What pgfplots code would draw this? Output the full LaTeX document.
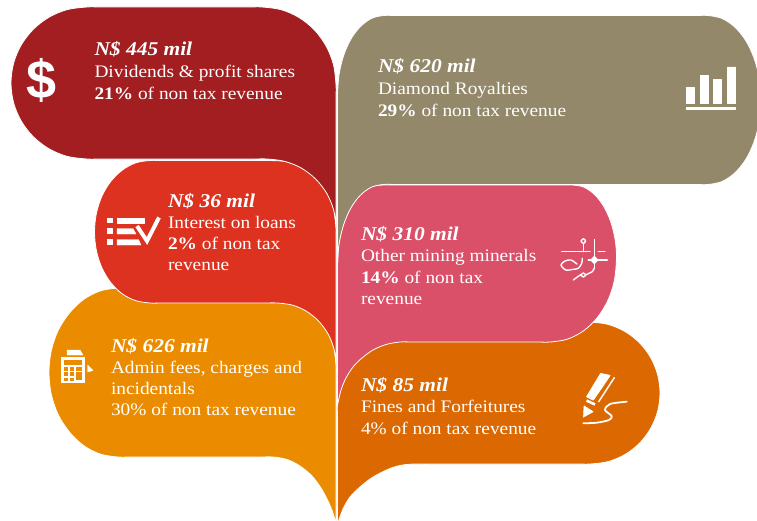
\documentclass[border=0pt]{standalone}
\usepackage{fontspec}
\setmainfont{Liberation Serif}[FakeStretch=1.1]
\newfontfamily\dollarfont{Liberation Sans}
\usepackage{pgfplots}
\pgfplotsset{compat=1.18}
\definecolor{cdarkred}{HTML}{A21E20}
\definecolor{ckhaki}{HTML}{94886A}
\definecolor{cred}{HTML}{DE3220}
\definecolor{cpink}{HTML}{DA5069}
\definecolor{corange}{HTML}{EB8C00}
\definecolor{cdorange}{HTML}{DB6800}
\tikzset{lab/.style={anchor=base west,inner sep=0pt,outer sep=0pt,text=white,font=\fontsize{17.6bp}{20bp}\selectfont}}
\newcommand{\head}[1]{{\fontsize{19.5bp}{20bp}\selectfont\bfseries\itshape #1}}
\pgfplotsset{leaf/.style={smooth,tension=0.55,draw=white,line width=0.8pt,line join=round,fill=#1},
 iconf/.style={fill=white,draw=white,line width=0.4pt,line join=round},
 iconl/.style={draw=white,line width=#1,line cap=round,line join=round}}
\begin{document}
\begin{tikzpicture}
\useasboundingbox (0,0) rectangle (757bp,521bp);
\begin{axis}[at={(0,0)},anchor=south west,width=757bp,height=521bp,scale only axis,xmin=0,xmax=757,ymin=0,ymax=521,y dir=reverse,hide axis,no markers]
% orange
\addplot[leaf=corange] coordinates {(336,524)(336,400)(336,376)(336,364)(334,348)(328.1,333)(318.7,320)(306.5,310)(292.3,304)(277,299)(265,293)(250,289)(235,288)(223,288)(150,288)(142,288)(130,288)(118,288)(100.3,290.9)(83.8,299.3)(69.6,312.8)(58.3,330.2)(51.3,350.6)(49,372.5)(51.3,394.4)(58.3,414.8)(69.6,432.2)(83.8,445.7)(100.3,454.1)(118,457)(130,457)(142,457)(200,457)(249,457)(261,457)(273,457)(287,459.5)(300,466)(312,476)(321,488)(328,501)(333,513)(336,524)};
% red
\addplot[leaf=cred] coordinates {(336,365)(336,300)(336,250)(336,238)(336,227)(333.7,209)(326.8,192.5)(315.8,178)(301.5,167.5)(284.9,161.5)(267,160.5)(255,160.5)(243,160.5)(200,160.5)(174,160.5)(162,160.5)(150,160.5)(135.6,162.9)(122.3,170.1)(110.8,181.4)(101.9,196.2)(96.4,213.5)(94.5,232)(96.4,250.5)(101.9,267.8)(110.8,282.6)(122.3,293.9)(135.6,300.6)(150,303)(162,303)(174,303)(220,303)(253,303)(265,303)(277,303)(292.3,305.1)(306.5,311.3)(318.7,321.2)(328.1,334)(334,349)(336,365)};
% dark red
\addplot[leaf=cdarkred] coordinates {(336,228)(336,160)(336,121)(336,109)(336,97)(336,85)(333.5,64.8)(326.1,46)(314.3,29.8)(299,17.5)(281.2,9.7)(262,7)(250,7)(238,7)(170,7)(111,7)(99,7)(87,7)(67.3,9.6)(49,17.2)(33.3,29.3)(21.2,45)(13.6,63.3)(11,83)(13.6,102.7)(21.2,121)(33.3,136.7)(49,148.8)(67.3,156.4)(87,159)(99,159)(111,159)(170,159)(243,159)(255,159)(267,159)(284.9,161.4)(301.5,168.2)(315.8,179.2)(326.8,193.5)(333.7,210.1)(336,228)};
% dark orange
\addplot[leaf=cdorange] coordinates {(337.5,524)(337.5,460)(337.5,428)(337.5,416)(337.5,404)(341,389)(346,377)(353,366)(362,357)(373,349)(386,343)(400,338)(415,328)(430,323)(442,322)(454,322)(500,322)(554,322)(566,322)(578,322)(590,322)(608.1,324.4)(625,331.5)(639.5,342.8)(650.6,357.5)(657.6,374.6)(660,393)(657.6,411.4)(650.6,428.5)(639.5,443.2)(625,454.5)(608.1,461.6)(590,464)(578,464)(566,464)(500,464)(434,464)(422,464)(410,464.2)(401,465.3)(390,468.5)(373,477)(360,487)(350,497)(343,509)(337.5,524)};
% pink
\addplot[leaf=cpink] coordinates {(337.5,405)(337.5,330)(337.5,288)(337.5,276)(337.5,264)(339,243)(343.6,223.8)(350.8,207)(360.3,194.3)(371.2,186.8)(383,185)(395,185)(407,185)(480,185)(548,185)(560,185)(572,185)(583.5,187)(594.3,194.3)(603.5,206)(610.5,221.2)(615,239)(616.5,258)(614.2,281.2)(607.6,301)(597,318)(583.3,331)(567.2,339.2)(550,342)(538,342)(526,342)(470,342)(424,342)(412,342)(400,342)(386,344.5)(373,350)(362,358)(353,367)(346,378)(341,390)(337.5,405)};
% khaki
\addplot[leaf=ckhaki] coordinates {(337.5,265)(337.5,180)(337.5,119)(337.5,107)(337.5,95)(339.1,74.4)(343.7,55.3)(351.1,38.8)(360.8,26.2)(372,18.2)(384,15.5)(396,15.5)(408,15.5)(550,15.5)(684,15.5)(696,15.5)(708,15.5)(721.7,18.4)(734.5,26.8)(745.5,40.2)(753.9,57.8)(759.2,78.1)(761,100)(759.2,121.9)(753.9,142.2)(745.5,159.8)(734.5,173.2)(721.7,181.6)(708,184.5)(696,184.5)(684,184.5)(550,184.5)(407,184.5)(395,184.5)(383,184.5)(371.2,187.3)(360.3,195.3)(350.8,208.1)(343.6,224.8)(339,244.2)(337.5,265)};
% bar icon
\addplot[iconf] coordinates {(686,87.5)(694,87.5)(694,103)(686,103)(686,87.5)};
\addplot[iconf] coordinates {(700,75.5)(708,75.5)(708,103)(700,103)(700,75.5)};
\addplot[iconf] coordinates {(713.5,79.5)(721.5,79.5)(721.5,103)(713.5,103)(713.5,79.5)};
\addplot[iconf] coordinates {(727.5,67)(735.5,67)(735.5,103)(727.5,103)(727.5,67)};
\addplot[iconf] coordinates {(686,107.5)(735.5,107.5)(735.5,109.5)(686,109.5)(686,107.5)};
% checklist icon
\addplot[iconf] coordinates {(107,218)(112,218)(112,222.5)(107,222.5)(107,218)};
\addplot[iconf] coordinates {(107,228.5)(112,228.5)(112,233.5)(107,233.5)(107,228.5)};
\addplot[iconf] coordinates {(107,239.5)(112,239.5)(112,244.5)(107,244.5)(107,239.5)};
\addplot[iconf] coordinates {(117,218)(144,218)(144,223.5)(117,223.5)(117,218)};
\addplot[iconf] coordinates {(117,228.5)(133,228.5)(136,234)(117,234)(117,228.5)};
\addplot[iconf] coordinates {(117,239.5)(138.5,239.5)(141,245)(117,245)(117,239.5)};
\addplot[iconl=4pt,line cap=butt,line join=miter] coordinates {(137,226)(147,241)(159,217.5)};
% calculator icon
\addplot[iconf] coordinates {(61,357)(84.5,357)(84.5,382.5)(61,382.5)(61,357)};
\addplot[iconf] coordinates {(67,350)(80,350)(83,355)(67,355)(67,350)};
\addplot[iconf] coordinates {(87.5,365)(93,370.5)(87.5,372)(87.5,365)};
\addplot[fill=corange,draw=none] coordinates {(64,360)(81.5,360)(81.5,364.5)(64,364.5)};
\addplot[fill=corange,draw=none] coordinates {(64,367)(68.3,367)(68.3,370.7)(64,370.7)};
\addplot[fill=corange,draw=none] coordinates {(70,367)(74,367)(74,370.7)(70,370.7)};
\addplot[fill=corange,draw=none] coordinates {(75.7,367)(81.5,367)(81.5,370.7)(75.7,370.7)};
\addplot[fill=corange,draw=none] coordinates {(64,372.4)(68.3,372.4)(68.3,376)(64,376)};
\addplot[fill=corange,draw=none] coordinates {(70,372.4)(74,372.4)(74,376)(70,376)};
\addplot[fill=corange,draw=none] coordinates {(75.7,372.4)(81.5,372.4)(81.5,379.8)(75.7,379.8)};
\addplot[fill=corange,draw=none] coordinates {(64,377.5)(68.3,377.5)(68.3,380.5)(64,380.5)};
\addplot[fill=corange,draw=none] coordinates {(70,377.5)(74,377.5)(74,380.5)(70,380.5)};
% circuit icon
\addplot[iconl=1.4pt] coordinates {(583.3,243.5)(583.3,251.7)};
\addplot[iconl=1.4pt] coordinates {(561.7,251.7)(590,251.7)};
\addplot[iconl=1.4pt] coordinates {(598.3,251.7)(605,251.7)};
\addplot[iconl=1.4pt] coordinates {(594.3,239.5)(594.3,268)};
\addplot[iconl=1.4pt] coordinates {(588.3,260)(607.3,260)};
\addplot[iconf] coordinates {(594.3,256)(598.3,260)(594.3,264)(590.3,260)(594.3,256)};
\addplot[iconl=1.4pt,smooth] coordinates {(581,241)(583.3,238.7)(585.6,241)(583.3,243.5)(581,241)};
\addplot[iconl=1.4pt,smooth] coordinates {(577,264)(571,260)(565,261)(561,265)(565.7,270)(573.3,269.3)(578.3,268.3)(581.7,263.3)(582.3,258.3)};
\addplot[iconl=1.4pt,smooth] coordinates {(573.3,280)(578,276.5)(581,274.5)(583.3,273)(585.6,275)(583.3,277)(581,275)};
\addplot[iconl=1.4pt,smooth] coordinates {(585.6,275)(589,273.3)(592.5,271.5)(594.3,268)};
% pen icon
\addplot[iconf,line width=1pt] coordinates {(600.7,373.5)(610,375.5)(593.3,400)(586.7,396.7)(600.7,373.5)};
\addplot[iconl=1.5pt,line cap=butt] coordinates {(614.5,377.3)(598.5,402)};
\addplot[iconl=2.6pt,line cap=butt] coordinates {(586.5,400.5)(595,404.5)};
\addplot[iconf] coordinates {(584,405.7)(593.3,411.7)(583.3,417.3)(584,405.7)};
\addplot[iconl=1.8pt,smooth] coordinates {(583.3,423.3)(596.7,422.7)(609,420)(611.7,416)(605,410)(610,404)(626.7,401.7)};
% dollar icon
\node[anchor=center,inner sep=0pt,text=white,font=\dollarfont\bfseries\fontsize{54bp}{54bp}\selectfont] at (axis cs:42,80) {\$};
% labels
\node[lab] at (axis cs:94.5,56) {\head{N\$ 445 mil}};
\node[lab] at (axis cs:94.5,78) {Dividends \& profit shares};
\node[lab] at (axis cs:94.5,99) {\textbf{21\%} of non tax revenue};
\node[lab] at (axis cs:378,73) {\head{N\$ 620 mil}};
\node[lab] at (axis cs:378,94) {Diamond Royalties};
\node[lab] at (axis cs:378,116) {\textbf{29\%} of non tax revenue};
\node[lab] at (axis cs:168,207) {\head{N\$ 36 mil}};
\node[lab] at (axis cs:168,228) {Interest on loans};
\node[lab] at (axis cs:168,249) {\textbf{2\%} of non tax};
\node[lab] at (axis cs:168,270) {revenue};
\node[lab] at (axis cs:361,240) {\head{N\$ 310 mil}};
\node[lab] at (axis cs:361,261) {Other mining minerals};
\node[lab] at (axis cs:361,283) {\textbf{14\%} of non tax};
\node[lab] at (axis cs:361,304) {revenue};
\node[lab] at (axis cs:111,352) {\head{N\$ 626 mil}};
\node[lab] at (axis cs:111,373) {Admin fees, charges and};
\node[lab] at (axis cs:111,394) {incidentals};
\node[lab] at (axis cs:111,415) {30\% of non tax revenue};
\node[lab] at (axis cs:361,391) {\head{N\$ 85 mil}};
\node[lab] at (axis cs:361,412) {Fines and Forfeitures};
\node[lab] at (axis cs:361,434) {4\% of non tax revenue};
\end{axis}
\end{tikzpicture}
\end{document}
